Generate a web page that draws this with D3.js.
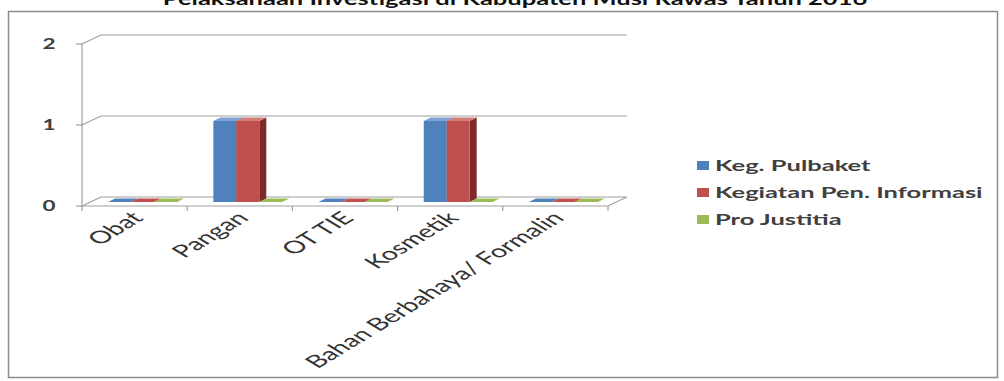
<!DOCTYPE html>
<html>
<head>
<meta charset="utf-8">
<script src="https://cdn.jsdelivr.net/npm/d3@7"></script>
<style>
  html, body { margin: 0; padding: 0; background: #fff; }
  svg { display: block; }
</style>
</head>
<body>
<div id="chart"></div>
<script>
// data
const categories = ["Obat", "Pangan", "OT TIE", "Kosmetik", "Bahan Berbahaya/ Formalin"];
const seriesNames = ["Keg. Pulbaket", "Kegiatan Pen. Informasi", "Pro Justitia"];
const pulbaket = [0, 1, 0, 1, 0];
const penInformasi = [0, 1, 0, 1, 0];
const proJustitia = [0, 0, 0, 0, 0];
const yTicks = [0, 1, 2];
const title = "Pelaksanaan Investigasi di Kabupaten Musi Rawas Tahun 2016";

// colors per series: front, top, side
const colors = [
    { front: "#4f81bd", top: "#7ea3d3", side: "#385d8a" },
    { front: "#c0504d", top: "#d47e7b", side: "#7e2a28" },
    { front: "#9bbb59", top: "#b7d07f", side: "#6f8a3c" }
];

const width = 1004, height = 381;
const sx = 1.5;           // the picture is stretched sideways, so the text is too
const labelSx = 1.65;     // category labels look a bit flatter
const font = "Lato, 'Open Sans', sans-serif";

// 3D offsets
const wall = { dx: 19, dy: -9 };     // depth of the floor / walls
const barOff = { dx: 8, dy: -4 };    // where the bar front face sits
const barDepth = { dx: 7, dy: -3.5 };

const svg = d3.select("#chart").append("svg")
    .attr("width", width)
    .attr("height", height);

// chart frame
svg.append("rect")
    .attr("x", 8.5).attr("y", 11.5)
    .attr("width", 989).attr("height", 366)
    .attr("fill", "#fff")
    .attr("stroke", "#8c8c8c")
    .attr("stroke-width", 1.5);

// title (top half is cut off in the picture)
svg.append("text")
    .attr("transform", `translate(515,5) scale(${sx},1)`)
    .attr("text-anchor", "middle")
    .style("font-family", font)
    .style("font-weight", "bold")
    .style("font-size", "17px")
    .style("fill", "#111")
    .text(title);

// scales
const x = d3.scaleBand().domain(categories).range([82, 608]);
const xs = d3.scaleBand().domain(seriesNames).range([0, x.bandwidth()]).paddingOuter(0.79);
const y = d3.scaleLinear().domain([0, 2]).range([206, 44]);

const grid = svg.append("g")
    .attr("fill", "none")
    .attr("stroke", "#a0a0a0")
    .attr("stroke-width", 1.2);

// floor
const x0 = x.range()[0], x1 = x.range()[1], y0 = y(0);
grid.append("path")
    .attr("d", `M${x0},${y0} L${x0 + wall.dx},${y0 + wall.dy} L${x1 + wall.dx},${y0 + wall.dy} L${x1},${y0} Z`);

// back wall gridlines with the little left-wall step
grid.selectAll(".gl")
    .data(yTicks.filter(t => t > 0))
    .enter().append("path")
    .attr("d", t => `M${x0},${y(t)} L${x0 + wall.dx},${y(t) + wall.dy} L${x1 + wall.dx},${y(t) + wall.dy}`);

// y axis
grid.append("line")
    .attr("x1", x0).attr("x2", x0)
    .attr("y1", y(2)).attr("y2", y0 + 1);
grid.selectAll(".yt")
    .data(yTicks)
    .enter().append("line")
    .attr("x1", x0 - 6).attr("x2", x0)
    .attr("y1", d => y(d)).attr("y2", d => y(d));

// x ticks on the floor front edge
const tickXs = categories.map(c => x(c)).concat([x1]);
grid.selectAll(".xt")
    .data(tickXs)
    .enter().append("line")
    .attr("x1", d => d).attr("x2", d => d)
    .attr("y1", y0).attr("y2", y0 + 5);

// y labels
svg.selectAll(".ylab")
    .data(yTicks)
    .enter().append("text")
    .attr("transform", d => `translate(49,${y(d)}) scale(${sx},1)`)
    .attr("text-anchor", "middle")
    .attr("dy", "0.36em")
    .style("font-family", font)
    .style("font-weight", "bold")
    .style("font-size", "15px")
    .style("fill", "#404040")
    .text(d => d);

// bars
const allSeries = [pulbaket, penInformasi, proJustitia];
const bars = [];
categories.forEach((c, i) => {
    allSeries.forEach((vals, s) => {
        bars.push({ cat: c, s: s, name: seriesNames[s], value: vals[i] });
    });
});

const barG = svg.append("g").selectAll("g")
    .data(bars)
    .enter().append("g");

function barGeom(d) {
    const left = x(d.cat) + xs(d.name) + barOff.dx;
    const right = left + xs.bandwidth();
    const bottom = y(0) + barOff.dy;
    const top = y(d.value) + barOff.dy;
    return { left, right, bottom, top };
}

// side face
barG.append("path")
    .attr("d", d => {
        const g = barGeom(d);
        return `M${g.right},${g.bottom} L${g.right + barDepth.dx},${g.bottom + barDepth.dy} L${g.right + barDepth.dx},${g.top + barDepth.dy} L${g.right},${g.top} Z`;
    })
    .attr("fill", d => colors[d.s].side);

// top face
barG.append("path")
    .attr("d", d => {
        const g = barGeom(d);
        return `M${g.left},${g.top} L${g.left + barDepth.dx},${g.top + barDepth.dy} L${g.right + barDepth.dx},${g.top + barDepth.dy} L${g.right},${g.top} Z`;
    })
    .attr("fill", d => d.value > 0 ? colors[d.s].top : colors[d.s].front);

// front face
barG.append("rect")
    .attr("x", d => barGeom(d).left)
    .attr("y", d => barGeom(d).top)
    .attr("width", xs.bandwidth())
    .attr("height", d => barGeom(d).bottom - barGeom(d).top)
    .attr("fill", d => colors[d.s].front);

// category labels, rotated
svg.selectAll(".xlab")
    .data(categories)
    .enter().append("text")
    .attr("transform", d => `translate(${x(d) + x.bandwidth() / 2 + 10},${y0 + 13}) scale(${labelSx},1) rotate(-45)`)
    .attr("text-anchor", "end")
    .style("font-family", font)
    .style("font-size", "17.5px")
    .style("fill", "#333")
    .text(d => d);

// legend
const legend = svg.append("g").selectAll("g")
    .data(seriesNames)
    .enter().append("g")
    .attr("transform", (d, i) => `translate(697,${166 + i * 27})`);

legend.append("rect")
    .attr("x", 0).attr("y", -5)
    .attr("width", 12).attr("height", 9)
    .attr("fill", (d, i) => colors[i].front);

legend.append("text")
    .attr("transform", `translate(18,0) scale(1.7,1)`)
    .attr("dy", "0.36em")
    .style("font-family", font)
    .style("font-weight", "bold")
    .style("font-size", "15px")
    .style("fill", "#404040")
    .text(d => d);
</script>
</body>
</html>
